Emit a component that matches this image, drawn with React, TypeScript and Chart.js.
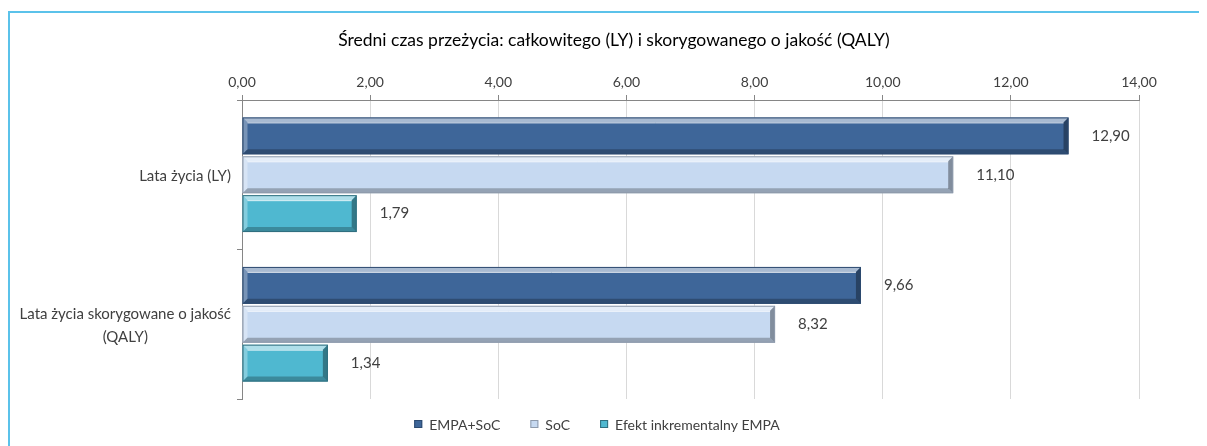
import React, { useEffect, useRef } from 'react';
import { Chart, registerables } from 'chart.js';

Chart.register(...registerables);

const titleText = 'Średni czas przeżycia: całkowitego (LY) i skorygowanego o jakość (QALY)';
const categories: string[][] = [['Lata życia (LY)'], ['Lata życia skorygowane o jakość', '(QALY)']];
const seriesNames = ['EMPA+SoC', 'SoC', 'Efekt inkrementalny EMPA'];
const empaSoc = [12.9, 9.66];
const soc = [11.1, 8.32];
const incremental = [1.79, 1.34];
const xMin = 0;
const xMax = 14;
const xStep = 2;

const seriesColors = ['#3E6699', '#C6D9F1', '#4FB8D0'];
const seriesBorders = ['#2C4A70', '#8E9AAB', '#2F6E7E'];

const FONT = 'Lato, "Open Sans", sans-serif';
const fmt = (v: number) => v.toFixed(2).replace('.', ',');

const bevelPlugin = {
  id: 'bevel',
  afterDatasetsDraw(chart: any) {
    const ctx = chart.ctx;
    chart.data.datasets.forEach((ds: any, di: number) => {
      const meta = chart.getDatasetMeta(di);
      if (meta.hidden) return;
      meta.data.forEach((el: any) => {
        const p = el.getProps(['x', 'y', 'base', 'height'], true);
        const left = Math.min(p.base, p.x);
        const right = Math.max(p.base, p.x);
        const top = p.y - p.height / 2;
        const bottom = p.y + p.height / 2;
        const b = Math.min(5, (right - left) / 3);
        ctx.save();
        ctx.fillStyle = 'rgba(255,255,255,0.55)';
        ctx.beginPath();
        ctx.moveTo(left, top);
        ctx.lineTo(right, top);
        ctx.lineTo(right - b, top + b);
        ctx.lineTo(left + b, top + b);
        ctx.closePath();
        ctx.fill();
        ctx.fillStyle = 'rgba(255,255,255,0.3)';
        ctx.beginPath();
        ctx.moveTo(left, top);
        ctx.lineTo(left + b, top + b);
        ctx.lineTo(left + b, bottom - b);
        ctx.lineTo(left, bottom);
        ctx.closePath();
        ctx.fill();
        ctx.fillStyle = 'rgba(0,0,0,0.25)';
        ctx.beginPath();
        ctx.moveTo(left, bottom);
        ctx.lineTo(right, bottom);
        ctx.lineTo(right - b, bottom - b);
        ctx.lineTo(left + b, bottom - b);
        ctx.closePath();
        ctx.fill();
        ctx.fillStyle = 'rgba(0,0,0,0.35)';
        ctx.beginPath();
        ctx.moveTo(right, top);
        ctx.lineTo(right, bottom);
        ctx.lineTo(right - b, bottom - b);
        ctx.lineTo(right - b, top + b);
        ctx.closePath();
        ctx.fill();
        ctx.strokeStyle = 'rgba(255,255,255,0.8)';
        ctx.lineWidth = 1;
        ctx.beginPath();
        ctx.moveTo(left + b, top + b + 0.5);
        ctx.lineTo(right - b, top + b + 0.5);
        ctx.stroke();
        ctx.strokeStyle = ds.borderColor;
        ctx.lineWidth = 1;
        ctx.strokeRect(left + 0.5, top + 0.5, right - left - 1, bottom - top - 1);
        ctx.restore();
      });
    });
  },
};

const valueLabelPlugin = {
  id: 'valueLabels',
  afterDatasetsDraw(chart: any) {
    const ctx = chart.ctx;
    ctx.save();
    ctx.font = `15px ${FONT}`;
    ctx.fillStyle = '#404040';
    ctx.textAlign = 'left';
    ctx.textBaseline = 'middle';
    chart.data.datasets.forEach((ds: any, di: number) => {
      const meta = chart.getDatasetMeta(di);
      meta.data.forEach((el: any, i: number) => {
        const p = el.getProps(['x', 'y'], true);
        ctx.fillText(fmt(ds.data[i]), p.x + 23, p.y);
      });
    });
    ctx.restore();
  },
};

const textPlugin = {
  id: 'texts',
  afterDraw(chart: any) {
    const ctx = chart.ctx;
    const yScale = chart.scales.y;
    ctx.save();
    // title
    ctx.font = `17.5px ${FONT}`;
    ctx.fillStyle = '#000000';
    ctx.textAlign = 'center';
    ctx.textBaseline = 'middle';
    ctx.fillText(titleText, 604, 27);
    // category labels
    ctx.font = `15px ${FONT}`;
    ctx.fillStyle = '#404040';
    const lineH = 23;
    categories.forEach((lines, i) => {
      const cy = yScale.getPixelForValue(i);
      const maxW = Math.max(...lines.map((l) => ctx.measureText(l).width));
      const cx = yScale.right - 11 - maxW / 2;
      const startY = cy - ((lines.length - 1) * lineH) / 2;
      lines.forEach((l, j) => ctx.fillText(l, cx, startY + j * lineH + 1));
    });
    // legend
    ctx.font = `14px ${FONT}`;
    ctx.textAlign = 'left';
    const box = 8;
    const boxGap = 7;
    const itemGap = 30;
    const widths = seriesNames.map((n) => box + boxGap + ctx.measureText(n).width);
    const total = widths.reduce((a, b) => a + b, 0) + itemGap * (seriesNames.length - 1);
    let x = 587 - total / 2;
    const ly = 411;
    seriesNames.forEach((n, i) => {
      ctx.fillStyle = seriesColors[i];
      ctx.fillRect(x, ly - box / 2, box, box);
      ctx.strokeStyle = seriesBorders[i];
      ctx.lineWidth = 1;
      ctx.strokeRect(x + 0.5, ly - box / 2 + 0.5, box - 1, box - 1);
      ctx.fillStyle = '#404040';
      ctx.fillText(n, x + box + boxGap, ly + 1);
      x += widths[i] + itemGap;
    });
    ctx.restore();
  },
};

export default function App() {
  const canvasRef = useRef<HTMLCanvasElement | null>(null);

  useEffect(() => {
    document.body.style.overflow = 'hidden';
    const canvas = canvasRef.current;
    if (!canvas) return;
    const chart = new Chart(canvas, {
      type: 'bar',
      data: {
        labels: categories.map((c) => c.join(' ')),
        datasets: [
          { label: seriesNames[0], data: empaSoc, backgroundColor: seriesColors[0], borderColor: seriesBorders[0] },
          { label: seriesNames[1], data: soc, backgroundColor: seriesColors[1], borderColor: seriesBorders[1] },
          { label: seriesNames[2], data: incremental, backgroundColor: seriesColors[2], borderColor: seriesBorders[2] },
        ],
      },
      options: {
        indexAxis: 'y',
        animation: false,
        responsive: false,
        maintainAspectRatio: false,
        datasets: {
          bar: { categoryPercentage: 0.78, barPercentage: 0.95, borderWidth: 0 },
        },
        layout: { padding: { left: 0, right: 0, top: 8, bottom: 47 } },
        plugins: {
          title: {
            display: true,
            text: titleText,
            font: { family: FONT, size: 16, weight: 'normal' },
            color: 'rgba(0,0,0,0)',
            padding: { top: 8, bottom: 22 },
          },
          legend: { display: false },
          tooltip: { enabled: false },
        },
        scales: {
          x: {
            position: 'top',
            min: xMin,
            max: xMax,
            ticks: {
              stepSize: xStep,
              callback: (v: any) => fmt(Number(v)),
              font: { family: FONT, size: 14 },
              color: '#404040',
              padding: 4,
            },
            grid: { color: '#D9D9D9', tickColor: '#868686', tickLength: 5 },
            border: { color: '#868686' },
          },
          y: {
            afterFit: (s: any) => {
              s.width = 232;
            },
            ticks: { color: 'rgba(0,0,0,0)', font: { family: FONT, size: 14 } },
            grid: { drawOnChartArea: false, tickColor: '#868686', tickLength: 5 },
            border: { color: '#868686' },
          },
          rightSpace: {
            type: 'linear',
            position: 'right',
            display: true,
            afterFit: (s: any) => {
              s.width = 66;
            },
            ticks: { display: false },
            grid: { display: false },
            border: { display: false },
          },
        },
      },
      plugins: [bevelPlugin, valueLabelPlugin, textPlugin],
    } as any);
    return () => chart.destroy();
  }, []);

  return (
    <div
      style={{
        marginTop: 3,
        width: 1197,
        height: 450,
        border: '2px solid #5BC2EA',
        boxSizing: 'content-box',
        overflow: 'hidden',
      }}
    >
      <canvas ref={canvasRef} width={1195} height={433} style={{ display: 'block' }} />
    </div>
  );
}
